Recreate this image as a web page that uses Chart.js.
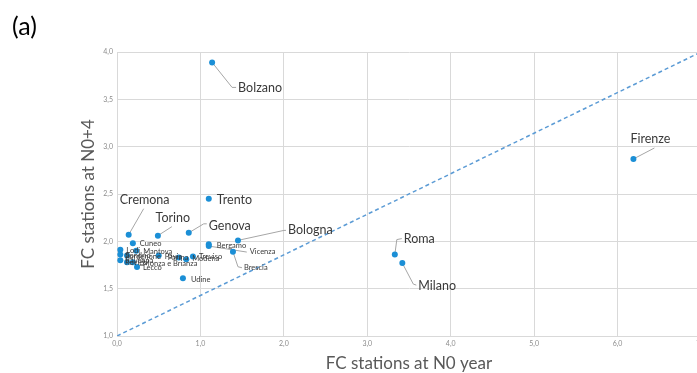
<!DOCTYPE html>
<html>
<head>
<meta charset="utf-8">
<script src="https://cdn.jsdelivr.net/npm/chart.js@4.4.1/dist/chart.umd.min.js"></script>
<style>
  html, body { margin: 0; padding: 0; background: #fff; overflow: hidden; }
  #wrap { position: absolute; left: 0; top: 0; width: 720px; height: 373px; }
</style>
</head>
<body>
<div id="wrap"><canvas id="c"></canvas></div>
<script>
// Fast-charging stations: year N0 vs four years later (N0+4)
const cityNames = [
  'Bolzano', 'Firenze', 'Roma', 'Milano', 'Trento', 'Genova', 'Torino', 'Cremona', 'Bologna',
  'Cuneo', 'Bergamo', 'Vicenza', 'Brescia', 'Udine',
  'Lodi', 'Mantova', 'Sondrio', 'Pordenone', 'Ravenna', 'Rovigo', 'Monza e Brianza', 'Lecco',
  'Pavia', 'Parma', 'Modena', 'Treviso'
];
const stationsN0 = [
  1.14, 6.19, 3.33, 3.42, 1.10, 0.86, 0.49, 0.14, 1.45,
  0.19, 1.10, 1.10, 1.39, 0.79,
  0.04, 0.23, 0.04, 0.12, 0.04, 0.12, 0.19, 0.24,
  0.50, 0.74, 0.83, 0.91
];
const stationsN4 = [
  3.89, 2.87, 1.86, 1.77, 2.45, 2.09, 2.06, 2.07, 2.01,
  1.98, 1.97, 1.95, 1.89, 1.61,
  1.91, 1.90, 1.86, 1.85, 1.80, 1.78, 1.78, 1.73,
  1.85, 1.83, 1.81, 1.84
];
// Bisector reference line y = x + 1
const diagonalX = [0, 7];
const diagonalY = [1, 4];

// Label placement (pixel offsets from each marker), leader polylines, text size
const labelLayout = [
  { dx: 26, dy: 26, big: true, lead: [[20, 25], [24, 25]] },
  { dx: 17, dy: -20, big: true, align: 'center', lead: [[21, -11]] },
  { dx: 9, dy: -16, big: true, lead: [[2, -15], [7, -16]] },
  { dx: 16, dy: 23, big: true, lead: [[11, 21], [14, 22]] },
  { dx: 8, dy: 1, big: true },
  { dx: 20, dy: -7, big: true, lead: [[15, -9], [18, -9]] },
  { dx: 15, dy: -18, big: true, align: 'center', lead: [[14, -9]] },
  { dx: 16, dy: -35, big: true, align: 'center', lead: [[15, -26]] },
  { dx: 50, dy: -10, big: true, lead: [[46, -10], [48, -10]] },
  { dx: 7, dy: 0 },
  { dx: 8, dy: 1 },
  { dx: 41, dy: 6, lead: [[38, 6]] },
  { dx: 11, dy: 16, lead: [[5, 15], [9, 16]] },
  { dx: 8, dy: 1 },
  { dx: 6, dy: 1 },
  { dx: 7, dy: 1 },
  { dx: 5, dy: 1 },
  { dx: -2, dy: 1 },
  { dx: 5, dy: 0 },
  { dx: -2, dy: 0 },
  { dx: 10, dy: 1 },
  { dx: 6, dy: 1 },
  { dx: 6, dy: 1 },
  { dx: -11, dy: 0 },
  { dx: 6, dy: -1 },
  { dx: 6, dy: 0 }
];

const FONT = 'Lato, "Open Sans", sans-serif';
const fmt = v => Number(v).toFixed(1).replace('.', ',');

const labelPlugin = {
  id: 'cityLabels',
  beforeDatasetsDraw(chart) {
    const meta = chart.getDatasetMeta(1);
    const ctx = chart.ctx;
    ctx.save();
    ctx.strokeStyle = '#a6a6a6';
    ctx.lineWidth = 1;
    meta.data.forEach((pt, i) => {
      const L = labelLayout[i];
      if (!L || !L.lead) return;
      ctx.beginPath();
      ctx.moveTo(pt.x, pt.y);
      L.lead.forEach(([dx, dy]) => ctx.lineTo(pt.x + dx, pt.y + dy));
      ctx.stroke();
    });
    ctx.restore();
  },
  afterDatasetsDraw(chart) {
    const meta = chart.getDatasetMeta(1);
    const ctx = chart.ctx;
    ctx.save();
    ctx.textBaseline = 'middle';
    meta.data.forEach((pt, i) => {
      const L = labelLayout[i];
      ctx.font = L.big ? '12.5px ' + FONT : '7.5px ' + FONT;
      ctx.fillStyle = '#3a3a3a';
      ctx.textAlign = L.align || 'left';
      ctx.fillText(cityNames[i], pt.x + L.dx, pt.y + L.dy);
    });
    ctx.font = '25px ' + FONT;
    ctx.fillStyle = '#000';
    ctx.textAlign = 'left';
    ctx.textBaseline = 'alphabetic';
    ctx.fillText('(a)', 12, 35);
    ctx.restore();
  }
};

new Chart(document.getElementById('c'), {
  type: 'scatter',
  data: {
    datasets: [
      {
        type: 'line',
        data: diagonalX.map((x, i) => ({ x, y: diagonalY[i] })),
        borderColor: '#5b9bd5',
        borderWidth: 1.5,
        borderDash: [4, 3],
        pointRadius: 0,
        fill: false
      },
      {
        data: stationsN0.map((x, i) => ({ x, y: stationsN4[i] })),
        backgroundColor: '#1b8fd6',
        borderWidth: 0,
        pointRadius: 3
      }
    ]
  },
  options: {
    responsive: true,
    maintainAspectRatio: false,
    animation: false,
    layout: { padding: { left: 0, top: 52, right: 19, bottom: 0 } },
    plugins: { legend: { display: false }, tooltip: { enabled: false } },
    scales: {
      x: {
        type: 'linear', min: 0, max: 7,
        ticks: { stepSize: 1, callback: fmt, color: '#8c8c8c', font: { size: 7, family: FONT }, padding: 4, maxRotation: 0 },
        grid: { color: '#d9d9d9', drawTicks: false },
        border: { color: '#d9d9d9' },
        title: { display: true, text: 'FC stations at N0 year', color: '#595959', font: { size: 17, family: FONT }, padding: { top: 0, bottom: -1 } },
        afterFit: s => { s.height = 37; }
      },
      y: {
        type: 'linear', min: 1, max: 4,
        ticks: { stepSize: 0.5, callback: fmt, color: '#8c8c8c', font: { size: 7, family: FONT }, padding: 4 },
        grid: { color: '#d9d9d9', drawTicks: false },
        border: { color: '#d9d9d9' },
        title: { display: true, text: 'FC stations at N0+4', color: '#595959', font: { size: 17, family: FONT }, padding: { top: 78, bottom: 0 } },
        afterFit: s => { s.width = 117; }
      }
    }
  },
  plugins: [labelPlugin]
});
</script>
</body>
</html>
